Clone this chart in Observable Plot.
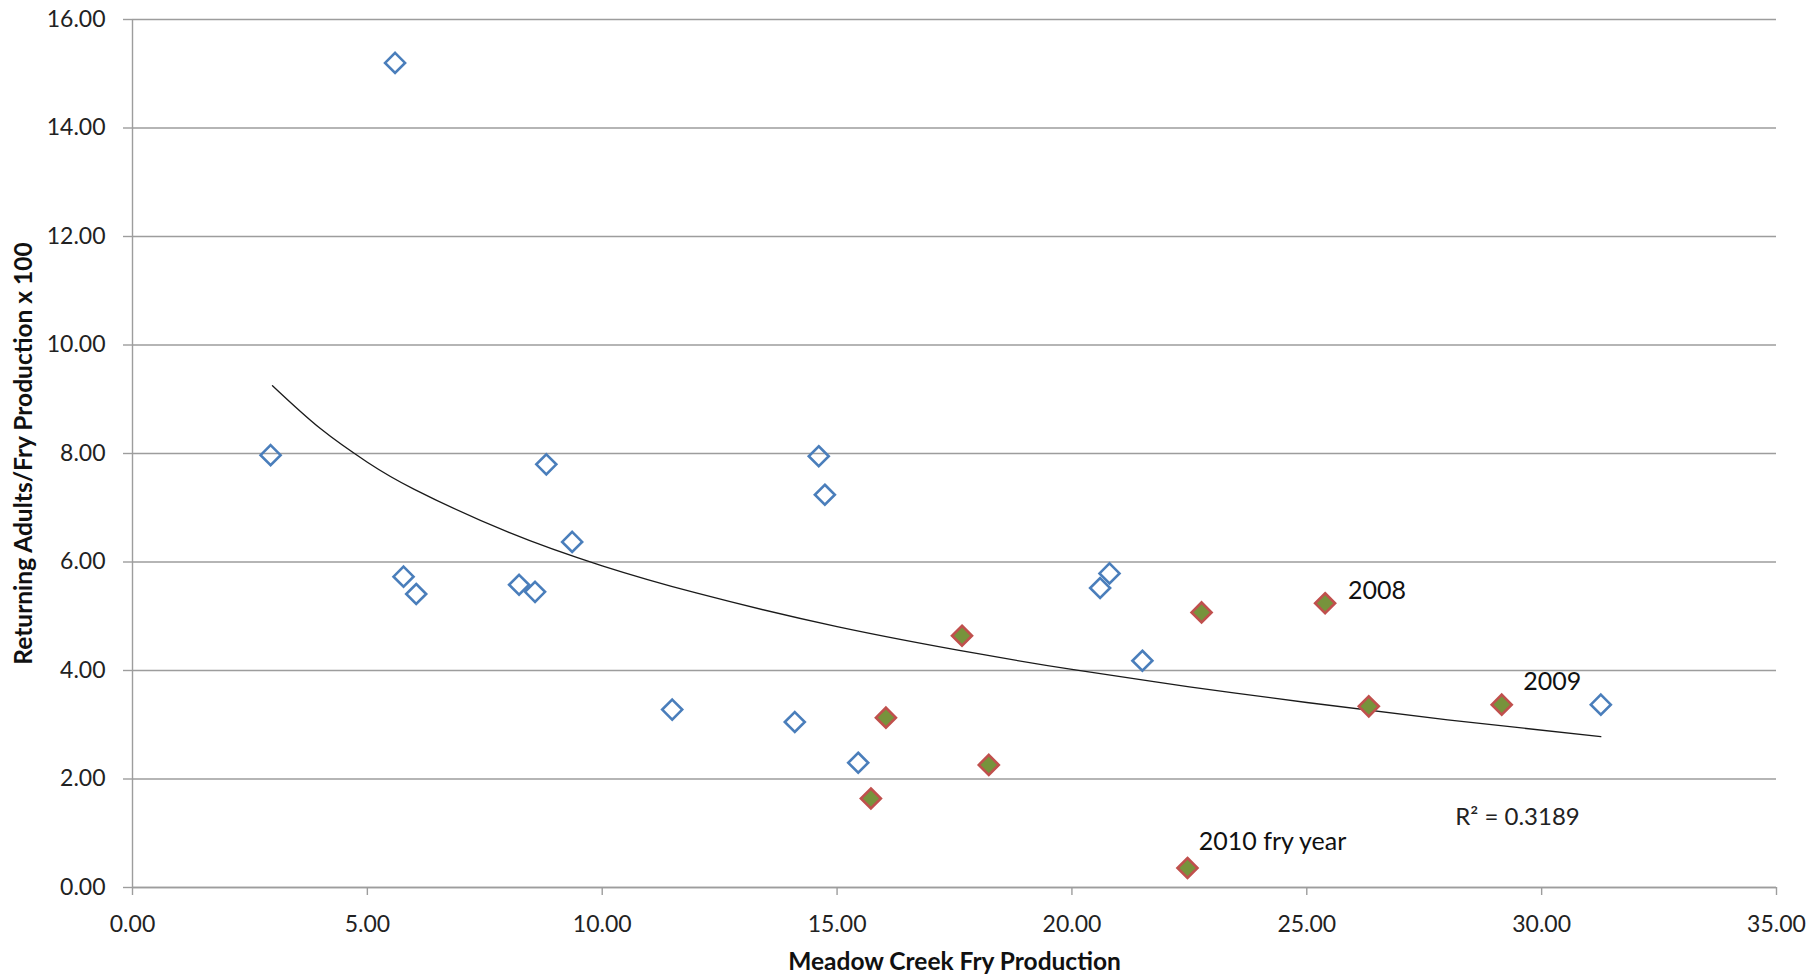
<!DOCTYPE html>
<html>
<head>
<meta charset="utf-8">
<script src="https://cdn.jsdelivr.net/npm/d3@7"></script>
<script src="https://cdn.jsdelivr.net/npm/@observablehq/plot@0.6"></script>
<style>
  html, body { margin: 0; padding: 0; background: #ffffff; }
  #chart svg { display: block; }
</style>
</head>
<body>
<div id="chart"></div>
<script>
// Earlier years (hollow blue diamonds)
const earlierFry   = [5.59, 2.94, 5.77, 6.04, 8.23, 8.57, 8.81, 9.36, 11.49, 14.10, 14.61, 14.74, 15.45, 20.60, 20.80, 21.50, 31.26];
const earlierRatio = [15.20, 7.97, 5.73, 5.41, 5.58, 5.45, 7.80, 6.37, 3.28, 3.05, 7.95, 7.24, 2.30, 5.52, 5.79, 4.18, 3.37];

// Recent years (filled green diamonds)
const recentFry   = [15.72, 16.04, 17.66, 18.23, 22.46, 22.76, 25.39, 26.32, 29.15];
const recentRatio = [1.64, 3.13, 4.64, 2.26, 0.36, 5.07, 5.24, 3.34, 3.37];

// Logarithmic trendline
const trendFry   = [2.98, 4, 5, 6, 8, 10, 12, 15, 18, 20, 22.5, 25, 28, 31.26];
const trendRatio = [9.25, 8.46, 7.84, 7.34, 6.55, 5.93, 5.43, 4.81, 4.31, 4.02, 3.70, 3.41, 3.09, 2.78];

// Year annotations
const labelText  = ["2008", "2009", "2010 fry year"];
const labelFry   = [25.88, 29.61, 22.70];
const labelRatio = [5.47, 3.79, 0.83];

// Trendline R² annotation
const r2Text  = ["R\u00B2 = 0.3189"];
const r2Fry   = [28.16];
const r2Ratio = [1.30];

// Axes
const xTicks = [0, 5, 10, 15, 20, 25, 30, 35];
const yTicks = [0, 2, 4, 6, 8, 10, 12, 14, 16];
const xTitle = "Meadow Creek Fry Production";
const yTitle = "Returning Adults/Fry Production x 100";

const earlier = earlierFry.map((x, i) => ({x, y: earlierRatio[i]}));
const recent  = recentFry.map((x, i) => ({x, y: recentRatio[i]}));
const trend   = trendFry.map((x, i) => ({x, y: trendRatio[i]}));
const labels  = labelText.map((t, i) => ({t, x: labelFry[i], y: labelRatio[i]}));
const r2      = r2Text.map((t, i) => ({t, x: r2Fry[i], y: r2Ratio[i]}));

const fmt = d3.format(".2f");
const axisGray = "#9d9d9d";

const chart = Plot.plot({
  width: 1810,
  height: 975,
  marginLeft: 132,
  marginRight: 34,
  marginTop: 19,
  marginBottom: 88,
  style: {fontFamily: "Lato, 'Open Sans', sans-serif", fontSize: "23px", color: "#222", background: "#ffffff"},
  x: {domain: [0, 35]},
  y: {domain: [0, 16]},
  marks: [
    Plot.gridY(yTicks, {stroke: axisGray, strokeOpacity: 1, strokeWidth: 1.4}),
    Plot.ruleX([0], {stroke: axisGray, strokeWidth: 1.4}),
    Plot.ruleY([0], {stroke: axisGray, strokeWidth: 1.4}),
    Plot.axisY(yTicks, {tickSize: 9, tickPadding: 18, stroke: axisGray, strokeWidth: 1.4, tickFormat: fmt, label: null, fill: "#222"}),
    Plot.axisX(xTicks, {tickSize: 8, tickPadding: 20, stroke: axisGray, strokeWidth: 1.4, tickFormat: fmt, label: null, fill: "#222"}),
    Plot.text([yTitle], {frameAnchor: "left", textAnchor: "middle", lineAnchor: "middle", rotate: -90, dx: -108, fontWeight: "bold", fontSize: 24.5, fill: "#111"}),
    Plot.text([xTitle], {frameAnchor: "bottom", textAnchor: "middle", lineAnchor: "middle", dy: 75, fontWeight: "bold", fontSize: 24.5, fill: "#111"}),
    Plot.line(trend, {x: "x", y: "y", curve: "natural", stroke: "#1a1a1a", strokeWidth: 1.3}),
    Plot.dot(earlier, {x: "x", y: "y", symbol: "diamond2", r: 9, fill: "none", stroke: "#4a7ebb", strokeWidth: 2.6}),
    Plot.dot(recent, {x: "x", y: "y", symbol: "diamond2", r: 9, fill: "#77933c", stroke: "#c0504d", strokeWidth: 2.6}),
    Plot.text(labels, {x: "x", y: "y", text: "t", textAnchor: "start", fontSize: 25, fill: "#111"}),
    Plot.text(r2, {x: "x", y: "y", text: "t", textAnchor: "start", fontSize: 24, fill: "#222"})
  ]
});

document.getElementById("chart").appendChild(chart);
</script>
</body>
</html>
